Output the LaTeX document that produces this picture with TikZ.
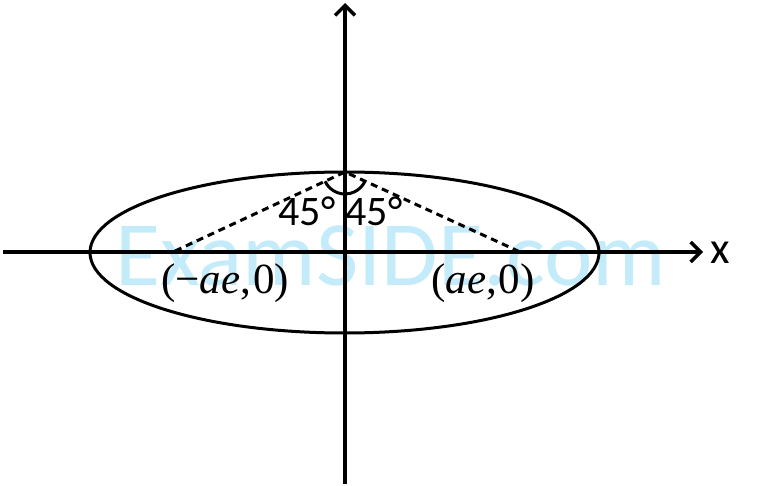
\documentclass[tikz,border=0pt]{standalone}
\usepackage{fontspec}
\setmainfont{Carlito}
\newfontfamily\tnr{Liberation Serif}
\usetikzlibrary{arrows.meta}
\definecolor{wmblue}{RGB}{195,235,250}
\begin{document}
\begin{tikzpicture}[x=1pt,y=-1pt,line width=3pt,
  axis/.style={line width=3.5pt,-{Straight Barb[length=10pt,width=20pt,line width=3.5pt]}},
  dashline/.style={dash pattern=on 7pt off 5pt},
  wm/.style={text=wmblue,font=\fontsize{92}{100}\selectfont,inner sep=0pt,anchor=base},
  deglabel/.style={font=\fontsize{42}{48}\selectfont,inner sep=0pt,anchor=base},
  ptlabel/.style={font=\tnr\fontsize{43}{48}\selectfont,inner sep=0pt,anchor=base}]
\useasboundingbox (0,0) rectangle (757,486);
\node[wm] (water) at (391,285) {ExamSIDE.com};
\coordinate (O) at (344.5,252.5);
\coordinate (L) at (3,252);
\coordinate (R) at (703,252);
\coordinate (B) at (345,484);
\coordinate (T) at (345,3);
\coordinate (F1) at (175,251);
\coordinate (F2) at (518,251);
\coordinate (A) at (345,172);
\draw[axis] (L) -- (R);
\draw[axis] (B) -- (T);
\draw (O) ellipse [x radius=254.5pt, y radius=80.5pt];
\draw[dashline] (F1) -- (A) -- (F2);
\draw (A) ++(205:22pt) arc[start angle=205, end angle=335, radius=22pt];
\node[deglabel] (d1) at (307,226) {45°};
\node[deglabel] (d2) at (374,226) {45°};
\node[font=\fontsize{45}{48}\selectfont,inner sep=0pt,anchor=base] (xl) at (720,263) {x};
\node[ptlabel] (p1) at (225,293) {(−\textit{ae},\kern2pt0)};
\node[ptlabel] (p2) at (483,293) {(\textit{ae},\kern2pt0)};
\end{tikzpicture}
\end{document}
